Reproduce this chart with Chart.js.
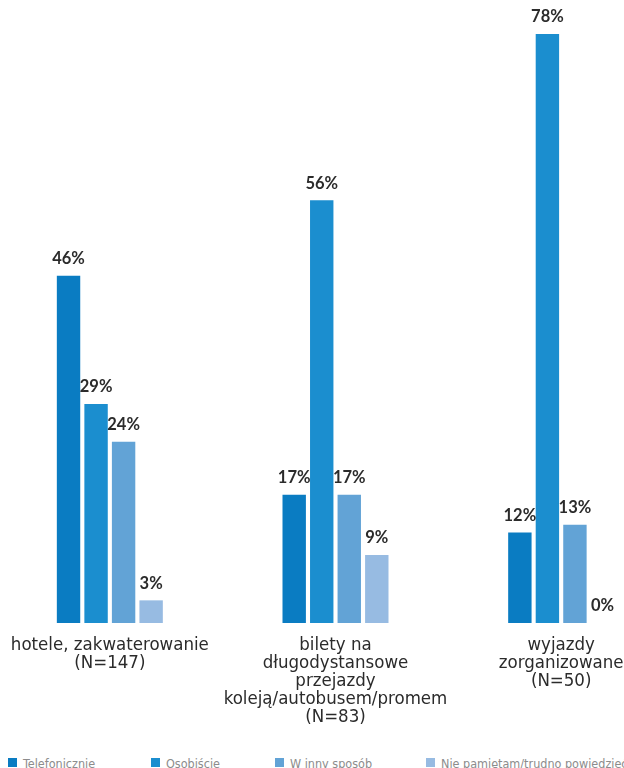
<!DOCTYPE html>
<html lang="pl">
<head>
    <meta charset="UTF-8">
    <title>Sposób rezerwacji</title>
    <script src="https://cdn.jsdelivr.net/npm/chart.js"></script>
    <style>
        html, body {
            margin: 0;
            padding: 0;
            background: #ffffff;
            overflow: hidden;
            width: 624px;
            height: 768px;
        }

        .chart-box {
            position: absolute;
            left: -3px;
            top: 0;
            width: 677px;
            height: 740px;
        }

        .legend {
            position: absolute;
            top: 757px;
            left: 0;
            width: 624px;
            height: 20px;
            font-family: 'DejaVu Sans Condensed', 'Liberation Sans Narrow', sans-serif;
            font-size: 12.5px;
            color: #8c8c8c;
        }

        .legend-item {
            position: absolute;
            top: 0;
            white-space: nowrap;
            line-height: 14px;
        }

        .legend-item span {
            display: inline-block;
            width: 9px;
            height: 9px;
            margin-right: 6px;
            vertical-align: 1px;
        }
    </style>
</head>
<body>
    <div class="chart-box">
        <canvas id="bookingChart"></canvas>
    </div>
    <div class="legend" id="legend"></div>

    <script>
        const categories = [
            ['hotele, zakwaterowanie', '(N=147)'],
            ['bilety na', 'długodystansowe', 'przejazdy', 'koleją/autobusem/promem', '(N=83)'],
            ['wyjazdy', 'zorganizowane', '(N=50)']
        ];
        const seriesNames = ['Telefonicznie', 'Osobiście', 'W inny sposób', 'Nie pamiętam/trudno powiedzieć'];
        const telefonicznie = [46, 17, 12];
        const osobiscie = [29, 56, 78];
        const innySposob = [24, 17, 13];
        const niePamietam = [3, 9, 0];
        const seriesColors = ['#0a7cc2', '#1b8ecf', '#62a3d6', '#97bbe2'];
        const legendX = [8, 151, 275, 426];

        // percentage labels above each bar
        const valueLabels = {
            id: 'valueLabels',
            afterDatasetsDraw(chart) {
                const ctx = chart.ctx;
                ctx.save();
                ctx.font = 'bold 16.5px Lato, "DejaVu Sans", sans-serif';
                ctx.fillStyle = '#2b2b2b';
                ctx.textAlign = 'center';
                ctx.textBaseline = 'middle';
                chart.data.datasets.forEach((ds, i) => {
                    chart.getDatasetMeta(i).data.forEach((bar, j) => {
                        ctx.fillText(ds.data[j] + '%', bar.x, bar.y - 17);
                    });
                });
                ctx.restore();
            }
        };

        const seriesData = [telefonicznie, osobiscie, innySposob, niePamietam];

        new Chart(document.getElementById('bookingChart').getContext('2d'), {
            type: 'bar',
            data: {
                labels: categories,
                datasets: seriesData.map((d, i) => ({
                    label: seriesNames[i],
                    data: d,
                    backgroundColor: seriesColors[i],
                    borderWidth: 0,
                    barPercentage: 0.85,
                    categoryPercentage: 0.488
                }))
            },
            options: {
                responsive: true,
                maintainAspectRatio: false,
                animation: false,
                layout: { padding: { top: 19, left: 0, right: 0, bottom: 0 } },
                plugins: {
                    legend: { display: false },
                    tooltip: { enabled: false }
                },
                scales: {
                    x: {
                        grid: { display: false },
                        border: { display: false },
                        ticks: {
                            color: '#2b2b2b',
                            padding: 5,
                            maxRotation: 0,
                            autoSkip: false,
                            font: {
                                family: '"DejaVu Sans Condensed", "Liberation Sans Narrow", sans-serif',
                                size: 18.5,
                                lineHeight: 0.98
                            }
                        },
                        afterFit(scale) {
                            // keep the plot width fixed; long labels may overflow the edges
                            scale.height = 117;
                            scale.paddingLeft = 0;
                            scale.paddingRight = 0;
                        }
                    },
                    y: {
                        display: false,
                        min: 0,
                        max: 80
                    }
                }
            },
            plugins: [valueLabels]
        });

        const legend = document.getElementById('legend');
        seriesNames.forEach((name, i) => {
            const item = document.createElement('div');
            item.className = 'legend-item';
            item.style.left = legendX[i] + 'px';
            item.innerHTML = `<span style="background:${seriesColors[i]}"></span>${name}`;
            legend.appendChild(item);
        });
    </script>
</body>
</html>
